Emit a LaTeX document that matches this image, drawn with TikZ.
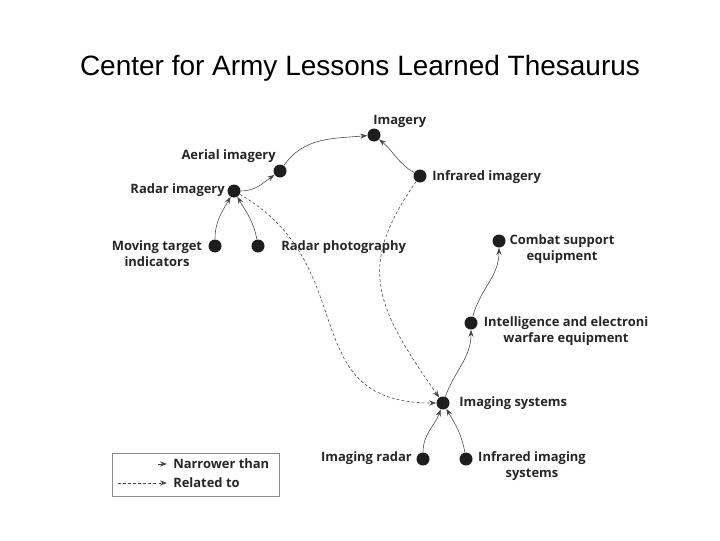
\documentclass[tikz,border=0pt]{standalone}
\usepackage{fontspec}
\setmainfont{Open Sans}
\newfontfamily\titlefont{Liberation Sans}
\usepackage{tikz}
\usetikzlibrary{arrows.meta}
\definecolor{dotgray}{RGB}{30,30,30}
\definecolor{linegray}{RGB}{70,70,70}
\tikzset{
    term/.style={draw=none, fill=dotgray, circle, inner sep=0pt, minimum size=13*0.025cm},
    lbl/.style={inner sep=0pt, font=\fontsize{9.2}{11.4}\selectfont\bfseries, text=black!85, align=center},
    narrower/.style={-{Stealth[length=5pt,width=3.6pt]}, linegray, line width=0.4pt},
    related/.style={narrower, dash pattern=on 2pt off 1.6pt},
    legendbox/.style={draw=black!45, line width=0.5pt}
}
\begin{document}
\begin{tikzpicture}[x=0.025cm,y=0.025cm]
    \useasboundingbox (0,0) rectangle (720,-540);
    \node[font=\titlefont\fontsize{19.9}{24}\selectfont] (title) at (360,-68) {Center for Army Lessons Learned Thesaurus};

    \node[term] (img) at (374,-135) {};
    \node[term] (aer) at (280,-171) {};
    \node[term] (rad) at (234,-191) {};
    \node[term] (infr) at (420,-176) {};
    \node[term] (mti) at (215,-246) {};
    \node[term] (rph) at (258,-246) {};
    \node[term] (cse) at (499,-241) {};
    \node[term] (iew) at (471,-323) {};
    \node[term] (isys) at (443,-403) {};
    \node[term] (irad) at (423,-459) {};
    \node[term] (iris) at (466,-459) {};

    \node[lbl, anchor=west] (img-l) at (373,-121) {Imagery};
    \node[lbl, anchor=east] (aer-l) at (276,-156) {Aerial imagery};
    \node[lbl, anchor=east] (rad-l) at (225,-190) {Radar imagery};
    \node[lbl, anchor=west] (infr-l) at (432,-177) {Infrared imagery};
    \node[lbl] (mti-l) at (157,-254) {Moving target\\indicators};
    \node[lbl, anchor=west] (rph-l) at (281,-247) {Radar photography};
    \node[lbl] (cse-l) at (562,-249) {Combat support\\equipment};
    \node[lbl] (iew-l) at (566,-331) {Intelligence and electroni\\warfare equipment};
    \node[lbl, anchor=west] (isys-l) at (459,-403) {Imaging systems};
    \node[lbl, anchor=east] (irad-l) at (412,-458) {Imaging radar};
    \node[lbl] (iris-l) at (532,-466) {Infrared imaging\\systems};

    \draw[narrower] (aer) to[out=55,in=185] (img);
    \draw[narrower] (infr) to[out=150,in=-40] (img);
    \draw[narrower] (rad) to[out=0,in=215] (aer);
    \draw[narrower] (mti) to[out=90,in=240] (rad);
    \draw[narrower] (rph) to[out=100,in=-60] (rad);
    \draw[narrower] (isys) to[out=70,in=-90] (iew);
    \draw[narrower] (iew) to[out=75,in=-90] (cse);
    \draw[narrower] (irad) to[out=90,in=250] (isys);
    \draw[narrower] (iris) to[out=100,in=-60] (isys);
    \draw[related] (rad) .. controls +(-30:150) and +(180:150) .. (isys);
    \draw[related] (infr) .. controls +(235:110) and +(125:120) .. (isys);

    \draw[legendbox] (112,-453) rectangle (279,-496);
    \coordinate (nar-a) at (158,-464);
    \coordinate (nar-b) at (167,-464);
    \coordinate (rel-a) at (118,-483);
    \coordinate (rel-b) at (167,-483);
    \draw[narrower] (nar-a) -- (nar-b);
    \draw[related] (rel-a) -- (rel-b);
    \node[lbl, anchor=west] (nar-l) at (173,-464) {Narrower than};
    \node[lbl, anchor=west] (rel-l) at (173,-483) {Related to};
\end{tikzpicture}
\end{document}
